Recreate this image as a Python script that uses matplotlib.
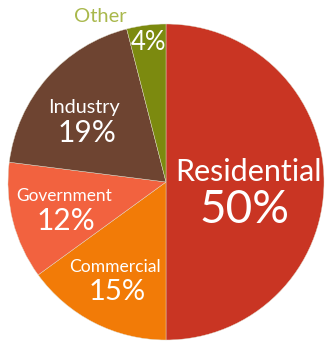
import matplotlib
matplotlib.use("Agg")
import matplotlib.pyplot as plt

categories = ["Residential", "Commercial", "Government", "Industry", "Other"]
shares = [50, 15, 12, 19, 4]
colors = ["#c93523", "#f27b07", "#f2623f", "#6e4431", "#7c8a0f"]

plt.rcParams["font.family"] = ["Lato", "DejaVu Sans"]

W, H = 327, 346
fig = plt.figure(figsize=(W / 100, H / 100), dpi=100)
cx, cy, r = 166, 182, 158
ax = fig.add_axes([(cx - r) / W, (H - cy - r) / H, 2 * r / W, 2 * r / H])

ax.pie(shares, colors=colors, startangle=90, counterclock=False,
       radius=1.0, wedgeprops=dict(linewidth=0.3, edgecolor="#e0dccb"))
ax.set_xlim(-1, 1)
ax.set_ylim(-1, 1)
ax.set_aspect("equal")
ax.axis("off")


def px(x, y):
    return (x - cx) / r, (cy - y) / r


# (name label pos, name size, value label pos, value size)
label_style = {
    "Residential": ((248, 172), 22, (244, 210), 33),
    "Commercial": ((115, 267), 12.6, (117, 292), 21),
    "Government": ((64, 196), 12.4, (66, 221), 21.5),
    "Industry": ((84, 107), 14.3, (87, 133), 21.5),
}

for name, val in zip(categories, shares):
    if name in label_style:
        (nx, ny), ns, (vx, vy), vs = label_style[name]
        ax.text(*px(nx, ny), name, color="white", fontsize=ns,
                ha="center", va="center")
        ax.text(*px(vx, vy), f"{val}%", color="white", fontsize=vs,
                ha="center", va="center")

other_val = shares[categories.index("Other")]
ax.text(*px(100, 16), "Other", color="#a9b84c", fontsize=14.5,
        ha="center", va="center")
ax.text(*px(148, 42), f"{other_val}%", color="white", fontsize=18.5,
        ha="center", va="center")

fig.savefig("out.png", dpi=100, facecolor="white")
